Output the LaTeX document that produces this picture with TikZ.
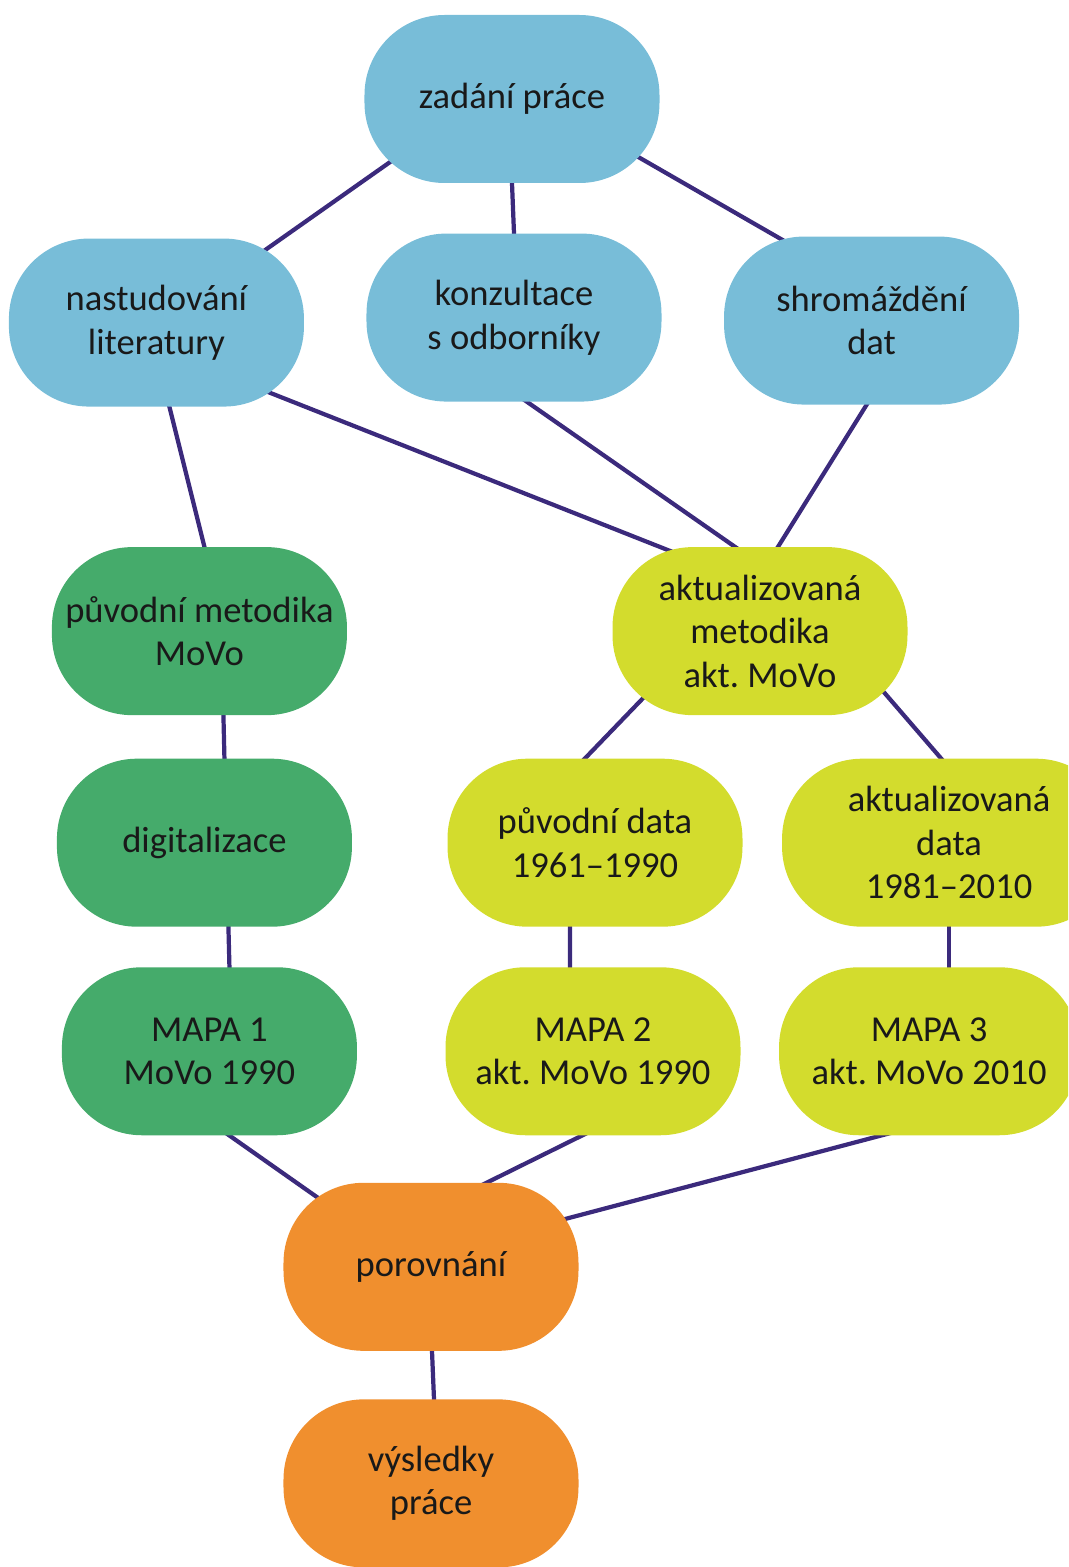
\documentclass[tikz,border=0pt]{standalone}
\usepackage{fontspec}
\setmainfont{Carlito}
\frenchspacing
\usetikzlibrary{positioning,backgrounds}

\definecolor{modra}{HTML}{78BDD8}
\definecolor{zelena}{HTML}{45AB6B}
\definecolor{zlutozelena}{HTML}{D3DC2D}
\definecolor{oranzova}{HTML}{F08F2E}
\definecolor{linka}{HTML}{3B2A7C}

\begin{document}
\begin{tikzpicture}[
  blok/.style={rounded corners=20mm, align=center, minimum width=73.75mm, minimum height=42mm,
    inner sep=0pt, text=black!90, font=\fontsize{26}{31}\selectfont},
  modry/.style={blok, fill=modra},
  zeleny/.style={blok, fill=zelena},
  zluty/.style={blok, fill=zlutozelena},
  oranzovy/.style={blok, fill=oranzova},
  link/.style={draw=linka, line width=3pt, shorten <=-8mm, shorten >=-8mm}
]
\useasboundingbox (-128mm,24.75mm) rectangle (139mm,-367mm);
\clip (-128mm,24.75mm) rectangle (139mm,-367mm);

\node[modry] (zadani) at (0,0) {zadání práce};
\node[modry, below=12.5mm of zadani, xshift=0.5mm] (konz) {konzultace\\s odborníky};
\node[modry, left=15.5mm of konz, yshift=-1.25mm] (nast) {nastudování\\literatury};
\node[modry, right=15.5mm of konz, yshift=-0.75mm] (shrom) {shromáždění\\dat};

\node[zeleny, below=35mm of nast, xshift=10.75mm] (puvmet) {původní metodika\\MoVo};
\node[zluty, right=66.25mm of puvmet] (aktmet) {aktualizovaná\\metodika\\akt. MoVo};

\node[zeleny, below=10.75mm of puvmet, xshift=1.25mm] (digi) {digitalizace};
\node[zluty, right=23.75mm of digi] (puvdata) {původní data\\1961–1990};
\node[zluty, right=9.75mm of puvdata, minimum width=83.5mm] (aktdata) {aktualizovaná\\data\\1981–2010};

\node[zeleny, below=10mm of digi, xshift=1.25mm] (mapa1) {MAPA 1\\MoVo 1990};
\node[zluty, below=10mm of puvdata, xshift=-0.5mm] (mapa2) {MAPA 2\\akt. MoVo 1990};
\node[zluty, right=9.5mm of mapa2, minimum width=75mm] (mapa3) {MAPA 3\\akt. MoVo 2010};

\node[oranzovy, below=11.75mm of mapa2, xshift=-40.5mm] (porov) {porovnání};
\node[oranzovy, below=12mm of porov] (vysl) {výsledky\\práce};

% spojnice za bloky
\begin{scope}[on background layer]
\draw[link] ([shift={(-29.75mm,-15.25mm)}]zadani.center) -- ([shift={(27mm,18mm)}]nast.center);
\draw[link] (zadani.south) -- (konz.north);
\draw[link] ([shift={(32mm,-14.75mm)}]zadani.center) -- ([shift={(-22mm,20mm)}]shrom.center);
\draw[link] ([xshift=3.25mm]nast.south) -- ([xshift=1.25mm]puvmet.north);
\draw[link] ([shift={(28.25mm,-17.5mm)}]nast.center) -- ([shift={(-23mm,20.25mm)}]aktmet.center);
\draw[link] ([xshift=3.25mm]konz.south) -- ([xshift=-6.25mm]aktmet.north);
\draw[link] ([xshift=-1.25mm]shrom.south) -- ([xshift=4.5mm]aktmet.north);
\draw[link] ([xshift=6mm]puvmet.south) -- ([xshift=5mm]digi.north);
\draw[link] ([xshift=6mm]digi.south) -- ([xshift=5mm]mapa1.north);
\draw[link] ([shift={(-28.75mm,-16.25mm)}]aktmet.center) -- ([xshift=-2.5mm]puvdata.north);
\draw[link] ([shift={(30.75mm,-15mm)}]aktmet.center) -- ([xshift=-2mm]aktdata.north);
\draw[link] ([xshift=-6.25mm]puvdata.south) -- ([xshift=-5.75mm]mapa2.north);
\draw[link] (aktdata.south) -- ([xshift=5mm]mapa3.north);
\draw[link] ([xshift=5mm]mapa1.south) -- ([shift={(-28.25mm,17.25mm)}]porov.center);
\draw[link] ([xshift=-2.75mm]mapa2.south) -- ([xshift=14mm]porov.north);
\draw[link] ([xshift=-12mm]mapa3.south) -- ([shift={(32.75mm,11.75mm)}]porov.center);
\draw[link] ([xshift=0.25mm]porov.south) -- ([xshift=0.75mm]vysl.north);
\end{scope}
\end{tikzpicture}
\end{document}
